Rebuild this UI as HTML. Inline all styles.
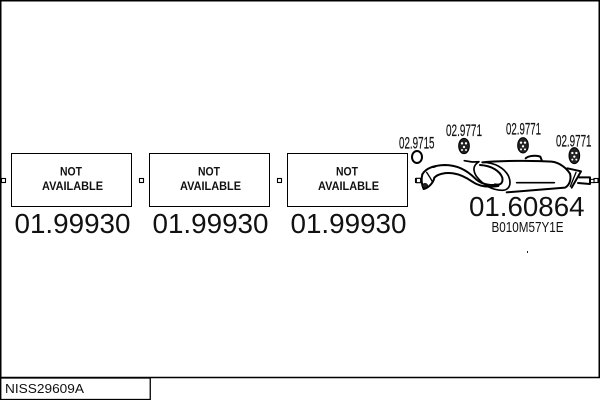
<!DOCTYPE html>
<html>
<head>
<meta charset="utf-8">
<style>
html,body{margin:0;padding:0;background:#fff;width:600px;height:400px;overflow:hidden}
svg{display:block}
text{font-family:"Liberation Sans",sans-serif;fill:#111}
</style>
</head>
<body>
<svg width="600" height="400" viewBox="0 0 600 400" xmlns="http://www.w3.org/2000/svg">
<!-- outer frame -->
<path d="M.75 400V.75H599.25V377.5H0" fill="none" stroke="#000" stroke-width="1.5"/>
<rect x=".75" y="378" width="149.5" height="21.5" fill="#fff" stroke="#000" stroke-width="1.3"/>
<text x="5" y="393" font-size="13" textLength="79" lengthAdjust="spacingAndGlyphs">NISS29609A</text>

<!-- boxes -->
<g fill="#fff" stroke="#000" stroke-width="1">
<rect x="11.5" y="153.5" width="120" height="53"/>
<rect x="149.5" y="153.5" width="120" height="53"/>
<rect x="287.5" y="153.5" width="120" height="53"/>
</g>
<g fill="#fff" stroke="#000" stroke-width="1.1">
<rect x="1.5" y="178.5" width="4" height="4"/>
<rect x="139.5" y="178.5" width="4" height="4"/>
<rect x="277.5" y="178.5" width="4" height="4"/>
<rect x="415.5" y="178.5" width="4" height="4"/>
<rect x="594" y="178.5" width="4" height="4"/>
</g>

<!-- NOT AVAILABLE -->
<g font-size="11.5" font-weight="bold">
<text x="60" y="175.5" textLength="22" lengthAdjust="spacingAndGlyphs">NOT</text>
<text x="42" y="190" textLength="61" lengthAdjust="spacingAndGlyphs">AVAILABLE</text>
<text x="198" y="175.5" textLength="22" lengthAdjust="spacingAndGlyphs">NOT</text>
<text x="180" y="190" textLength="61" lengthAdjust="spacingAndGlyphs">AVAILABLE</text>
<text x="336" y="175.5" textLength="22" lengthAdjust="spacingAndGlyphs">NOT</text>
<text x="318" y="190" textLength="61" lengthAdjust="spacingAndGlyphs">AVAILABLE</text>
</g>

<!-- numbers -->
<g font-size="27.5">
<text x="14.5" y="233" textLength="116" lengthAdjust="spacingAndGlyphs">01.99930</text>
<text x="152.5" y="233" textLength="116" lengthAdjust="spacingAndGlyphs">01.99930</text>
<text x="290.5" y="233" textLength="116" lengthAdjust="spacingAndGlyphs">01.99930</text>
<text x="469" y="216" textLength="115.5" lengthAdjust="spacingAndGlyphs">01.60864</text>
</g>
<text x="491.5" y="232" font-size="15" textLength="72" lengthAdjust="spacingAndGlyphs">B010M57Y1E</text>
<g font-size="16.5" stroke="#111" stroke-width=".2">
<text x="399" y="148.5" textLength="35.5" lengthAdjust="spacingAndGlyphs">02.9715</text>
<text x="446" y="136" textLength="36" lengthAdjust="spacingAndGlyphs">02.9771</text>
<text x="506" y="134.5" textLength="35" lengthAdjust="spacingAndGlyphs">02.9771</text>
<text x="556" y="146.5" textLength="35.5" lengthAdjust="spacingAndGlyphs">02.9771</text>
</g>

<!-- exhaust drawn in zoom coords -->
<g transform="translate(395 115) scale(.33333)" fill="none" stroke="#000" stroke-width="6" stroke-linecap="round" stroke-linejoin="round">
<!-- O-ring -->
<ellipse cx="66" cy="126" rx="15" ry="18" stroke-width="6"/>
<!-- hangers -->
<g fill="#222" stroke-width="3">
<ellipse cx="207" cy="93" rx="16" ry="23"/>
<ellipse cx="384" cy="91" rx="16" ry="23"/>
<ellipse cx="538" cy="122" rx="16" ry="24"/>
</g>
<g fill="#fff" stroke="none">
<circle cx="201" cy="85" r="3.5"/><circle cx="213" cy="85" r="3.5"/><circle cx="207" cy="96" r="3.5"/><circle cx="201" cy="105" r="3"/><circle cx="213" cy="105" r="3"/>
<circle cx="378" cy="83" r="3.5"/><circle cx="390" cy="83" r="3.5"/><circle cx="384" cy="94" r="3.5"/><circle cx="378" cy="103" r="3"/><circle cx="390" cy="103" r="3"/>
<circle cx="532" cy="114" r="3.5"/><circle cx="544" cy="114" r="3.5"/><circle cx="538" cy="125" r="3.5"/><circle cx="532" cy="134" r="3"/><circle cx="544" cy="134" r="3"/>
</g>
<!-- muffler body -->
<path d="M262 142C310 137 420 136 470 140C495 143 515 160 525 176C530 195 522 212 510 218C440 224 390 228 335 232"/>
<path d="M365 203H478" stroke-width="5"/>
<!-- bracket on top -->
<path d="M392 130C400 122 425 120 436 125L441 138"/>
<!-- end flange and tail -->
<path d="M517 160L558 169L530 218"/>
<path d="M543 172L526 214" stroke-width="4"/>
<path d="M552 187H585V207L549 204"/>
<path d="M585 193H598M585 203H598" stroke-width="3"/>
<!-- inner loop of pipe -->
<path d="M208 137L232 141L252 140C235 150 232 165 245 185C265 210 290 226 322 226C345 225 350 205 340 182C328 160 300 142 262 142" stroke-width="5"/>
<path d="M255 150C290 152 315 168 322 188C325 205 315 212 300 208"/>
<!-- inlet pipe -->
<path d="M82 178C92 160 115 151 150 150C185 150 215 165 240 190C255 205 280 213 312 209"/>
<path d="M118 188C128 177 150 172 175 175C195 178 215 188 232 200C250 213 275 218 310 213"/>
<path d="M82 178C78 192 80 210 86 222C98 220 115 205 118 188"/>
<path d="M95 172C102 183 108 192 112 200" stroke-width="4"/>
<path d="M115 156L122 154"/>
<ellipse cx="90" cy="212" rx="8" ry="7" fill="#222" stroke-width="2"/>
<!-- left stub -->
<rect x="64" y="190" width="13" height="13" fill="#fff" stroke-width="3.5"/>
</g>
<rect x="527" y="251" width="1" height="2" fill="#222"/>
</svg>
</body>
</html>
